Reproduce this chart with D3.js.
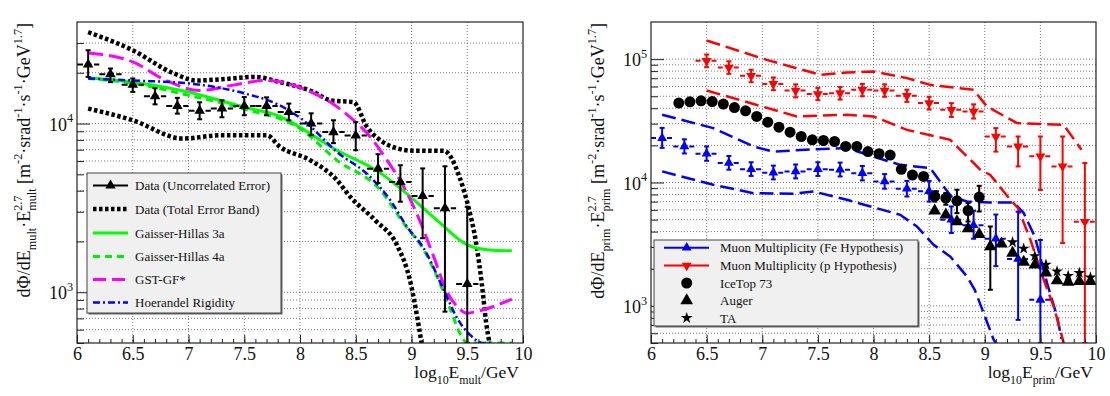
<!DOCTYPE html>
<html>
<head>
<meta charset="utf-8">
<script src="https://cdn.jsdelivr.net/npm/d3@7"></script>
<style>
  body { margin: 0; background: #fff; }
  svg { display: block; font-family: "Liberation Serif", "DejaVu Serif", serif; }
</style>
</head>
<body>
<svg id="chart" width="1110" height="396"></svg>
<script>
// ---------- left panel: muon multiplicity spectrum ----------
var multX      = [6.1, 6.3, 6.5, 6.7, 6.9, 7.1, 7.3, 7.5, 7.7, 7.9, 8.1, 8.3, 8.5, 8.7, 8.9, 9.1, 9.3, 9.5];
var multFlux   = [22400, 19600, 17000, 14500, 12700, 11900, 12300, 12700, 12700, 11700, 10000, 8900, 8500, 5400, 4500, 3720, 3150, 1120];
var multErrLo  = [18900, 17600, 15400, 13000, 11450, 10600, 10900, 11200, 11200, 10450, 8530, 7650, 6950, 4440, 3440, 2090, 767, 300];
var multErrHi  = [27200, 21200, 18500, 16200, 14200, 13370, 13740, 14360, 14300, 13130, 11500, 10460, 10200, 6580, 5660, 5420, 5580, 3210];

var bandUpX = [6.1, 6.5, 6.87, 7.07, 7.3, 7.6, 7.79, 8.12, 8.28, 8.48, 8.6, 8.72, 8.85, 9.02, 9.29, 9.43, 9.51, 9.58, 9.63, 9.67, 9.7];
var bandUpY = [34800, 27200, 19800, 18000, 18300, 18900, 17800, 15400, 13700, 13400, 9550, 7960, 7200, 6900, 6900, 4830, 3210, 1950, 1130, 656, 500];
var bandLoX = [6.1, 6.5, 6.95, 7.3, 7.7, 7.82, 8.09, 8.33, 8.45, 8.68, 8.87, 8.99, 9.05, 9.09];
var bandLoY = [12270, 10460, 8150, 8530, 8530, 7280, 6070, 4630, 3680, 2650, 1900, 1150, 720, 500];

var gh3aX = [6.1, 6.5, 7.0, 7.5, 7.79, 8.33, 8.72, 8.99, 9.26, 9.5, 9.7, 9.9];
var gh3aY = [18700, 17600, 15400, 12500, 11200, 6950, 5100, 3680, 2560, 1910, 1780, 1760];
var gh4aX = [6.1, 6.5, 7.0, 7.5, 8.0, 8.33, 8.72, 8.93, 9.11, 9.23, 9.35, 9.45, 9.5, 9.6, 9.9];
var gh4aY = [18500, 17300, 14700, 12200, 9340, 6070, 4030, 2560, 1780, 1235, 785, 546, 480, 400, 400];
var gstX  = [6.1, 6.5, 6.8, 7.1, 7.4, 7.7, 8.03, 8.27, 8.45, 8.63, 8.78, 8.93, 9.05, 9.2, 9.32, 9.41, 9.5, 9.58, 9.9];
var gstY  = [26200, 23200, 18000, 15700, 16900, 18000, 16100, 13400, 10900, 8340, 6070, 4220, 2900, 1620, 1000, 822, 751, 767, 910];
var hoerX = [6.1, 6.5, 7.0, 7.5, 7.8, 8.03, 8.33, 8.63, 8.81, 8.96, 9.11, 9.29, 9.41, 9.53, 9.64, 9.7];
var hoerY = [18500, 18000, 17300, 15100, 13000, 10460, 6800, 4830, 3510, 2440, 1820, 1030, 700, 555, 480, 470];

// ---------- right panel: primary spectrum ----------
var feX     = [6.1, 6.3, 6.5, 6.7, 6.9, 7.1, 7.3, 7.5, 7.7, 7.9, 8.1, 8.3, 8.5, 8.7, 8.9, 9.1, 9.3, 9.5];
var feFlux  = [22900, 19600, 17100, 14400, 12800, 12000, 12300, 12800, 12700, 11900, 10200, 8900, 8500, 5000, 4500, 3500, 2400, 1120];
var feErrLo = [19100, 17200, 15000, 12700, 11300, 10600, 10800, 11300, 11200, 10400, 8900, 7700, 7000, 3900, 3500, 2100, 770, 400];
var feErrHi = [27700, 22400, 19600, 16400, 14600, 13700, 14000, 14600, 14500, 13600, 11700, 10300, 10300, 6400, 5900, 5500, 5800, 3420];

var pX     = [6.5, 6.7, 6.9, 7.1, 7.3, 7.5, 7.7, 7.9, 8.1, 8.3, 8.5, 8.7, 8.9, 9.1, 9.3, 9.5, 9.7, 9.9];
var pFlux  = [97000, 85500, 73200, 63000, 55700, 52100, 53000, 56400, 55700, 50500, 44000, 38800, 37600, 23600, 19600, 16300, 13500, 4800];
var pErrLo = [86000, 76000, 65000, 56000, 49000, 46500, 47000, 50000, 49500, 45000, 39000, 34000, 33000, 17800, 13500, 8700, 3230, 300];
var pErrHi = [109000, 96000, 82000, 71000, 62500, 58500, 59500, 63000, 62500, 56500, 49500, 44000, 43000, 27600, 23600, 23600, 23600, 14400];

var itX     = [6.25, 6.35, 6.45, 6.55, 6.65, 6.75, 6.85, 6.95, 7.05, 7.15, 7.25, 7.35, 7.45, 7.55, 7.65, 7.75, 7.85, 7.95, 8.05, 8.15, 8.25, 8.35, 8.45, 8.55, 8.65, 8.75, 8.85, 8.95];
var itFlux  = [44000, 45100, 45900, 45300, 43200, 40500, 38100, 34300, 30800, 28100, 25600, 23600, 22200, 21900, 21500, 19600, 19600, 17800, 17100, 16700, 12800, 11500, 11200, 7710, 7480, 7110, 5930, 7620];
var itErrLo = [44000, 45100, 45900, 45300, 43200, 40500, 38100, 34300, 30800, 28100, 25600, 23600, 22200, 21900, 21500, 19600, 19600, 17800, 17100, 16700, 12800, 11500, 11200, 7000, 6600, 5650, 4830, 5820];
var itErrHi = [44000, 45100, 45900, 45300, 43200, 40500, 38100, 34300, 30800, 28100, 25600, 23600, 22200, 21900, 21500, 19600, 19600, 17800, 17100, 16700, 12800, 11500, 11200, 8500, 8210, 8730, 6810, 9400];

var augX     = [8.55, 8.65, 8.75, 8.85, 8.95, 9.05, 9.15, 9.25, 9.35, 9.45, 9.55, 9.65, 9.75, 9.85, 9.95];
var augFlux  = [5900, 5470, 4830, 4230, 3800, 3030, 3180, 2680, 2260, 2150, 1850, 1600, 1560, 1580, 1580];
var augErrLo = [5900, 5470, 4830, 4230, 3800, 1350, 3180, 2680, 2260, 2150, 1850, 1600, 1560, 1580, 1580];
var augErrHi = [5900, 5470, 4830, 4230, 3800, 4400, 3180, 2680, 2260, 2150, 1850, 1600, 1560, 1580, 1580];

var taX    = [9.25, 9.35, 9.45, 9.55, 9.65, 9.75, 9.85, 9.95];
var taFlux = [3280, 2910, 2530, 2160, 1900, 1750, 1850, 1700];

var feUpX = [6.1, 6.56, 6.92, 7.1, 7.46, 7.76, 8.09, 8.24, 8.51, 8.63, 8.7, 8.84, 9.05, 9.26, 9.35, 9.45, 9.56, 9.65, 9.69];
var feUpY = [35400, 27600, 19600, 17800, 18600, 19000, 15300, 13900, 13100, 9290, 7700, 7010, 6890, 6890, 5650, 3650, 1530, 820, 540];
var feLoX = [6.1, 6.56, 6.92, 7.28, 7.46, 7.76, 8.24, 8.39, 8.54, 8.69, 8.84, 8.91, 8.99, 9.08, 9.1];
var feLoY = [12300, 9580, 8200, 8100, 8460, 7240, 5470, 4400, 3130, 2510, 1730, 1350, 875, 531, 500];
var pUpX  = [6.5, 7.04, 7.52, 7.76, 8.0, 8.3, 8.51, 8.9, 9.02, 9.29, 9.71, 9.87];
var pUpY  = [141600, 98600, 74700, 77800, 79500, 70200, 61900, 56400, 41300, 30300, 29300, 18400];
var pLoX  = [6.5, 7.31, 7.76, 8.0, 8.3, 8.69, 8.78, 8.96, 9.05, 9.23, 9.3, 9.41, 9.53, 9.62, 9.71];
var pLoY  = [55700, 34300, 35400, 34300, 26700, 22200, 18400, 12700, 11500, 7240, 6200, 3440, 1630, 988, 500];

// ---------- axes ----------
var xMajorTicks = [6, 6.5, 7, 7.5, 8, 8.5, 9, 9.5, 10];
var xTickLabels = ["6", "6.5", "7", "7.5", "8", "8.5", "9", "9.5", "10"];
var yMajorLeft  = [1000, 10000];
var yMajorRight = [1000, 10000, 100000];
var yLabelExp   = {1000: "3", 10000: "4", 100000: "5"};
var yMinorLeft  = [600, 700, 800, 900, 2000, 3000, 4000, 5000, 6000, 7000, 8000, 9000, 20000, 30000];
var yMinorRight = [600, 700, 800, 900, 2000, 3000, 4000, 5000, 6000, 7000, 8000, 9000,
                   20000, 30000, 40000, 50000, 60000, 70000, 80000, 90000];

var leftLegend  = ["Data (Uncorrelated Error)", "Data (Total Error Band)", "Gaisser-Hillas 3a", "Gaisser-Hillas 4a", "GST-GF*", "Hoerandel Rigidity"];
var rightLegend = ["Muon Multiplicity (Fe Hypothesis)", "Muon Multiplicity (p Hypothesis)", "IceTop 73", "Auger", "TA"];

var svg = d3.select("#chart");
var plotTop = 22, plotBottom = 343;

// text with sub/superscripts, "stack" puts a superscript over the previous subscript
function rich(text, parts, fs) {
  var off = 0, subW = 0, pendDx = 0;
  parts.forEach(function(p) {
    var k = p[1] || "n";
    var target = k == "sub" ? fs * 0.32 : (k == "sup" || k == "stack") ? -fs * 0.45 : 0;
    var span = text.append("tspan").text(p[0])
      .attr("font-size", k == "n" ? fs : fs * 0.68)
      .attr("dy", target - off);
    var dx = k == "stack" ? -subW : pendDx;
    if (dx) span.attr("dx", dx);
    pendDx = 0;
    off = target;
    var w = span.node().getComputedTextLength();
    if (k == "sub") subW = w;
    if (k == "stack") pendDx = Math.max(subW - w, 0);
  });
}

function makePanel(left, right, yDomain, yMajor, yMinor, id) {
  var x = d3.scaleLinear().domain([6, 10]).range([left, right]);
  var y = d3.scaleLog().domain(yDomain).range([plotBottom, plotTop]).clamp(true);
  var g = svg.append("g");

  svg.append("clipPath").attr("id", id).append("rect")
    .attr("x", left).attr("y", plotTop).attr("width", right - left).attr("height", plotBottom - plotTop);

  // grid
  var grid = g.append("g").attr("stroke", "#555").attr("stroke-width", 0.8).attr("stroke-dasharray", "1,2");
  grid.selectAll(".gx").data(xMajorTicks.slice(1, -1)).enter().append("line")
    .attr("x1", function(d) { return x(d); }).attr("x2", function(d) { return x(d); })
    .attr("y1", plotTop).attr("y2", plotBottom);
  grid.selectAll(".gy").data(yMajor.concat(yMinor)).enter().append("line")
    .attr("y1", function(d) { return y(d); }).attr("y2", function(d) { return y(d); })
    .attr("x1", left).attr("x2", right);

  return {x: x, y: y, g: g, clip: "url(#" + id + ")", left: left, right: right, yMajor: yMajor, yMinor: yMinor};
}

function drawAxes(P) {
  var ax = P.g.append("g").attr("transform", "translate(0," + plotBottom + ")");
  ax.call(d3.axisBottom(P.x).tickValues(d3.range(60, 101).map(function(v) { return v / 10; }))
    .tickSize(-4).tickFormat(""));
  var axM = P.g.append("g").attr("transform", "translate(0," + plotBottom + ")");
  axM.call(d3.axisBottom(P.x).tickValues(xMajorTicks).tickSize(-8).tickPadding(4)
    .tickFormat(function(d, i) { return xTickLabels[i]; }));
  [ax, axM].forEach(function(a) {
    a.select(".domain").remove();
    a.selectAll("line").attr("stroke", "#222");
    a.selectAll("text").attr("font-size", 18).attr("font-family", "Liberation Serif").attr("fill", "#111");
  });

  var ay = P.g.append("g").attr("transform", "translate(" + P.left + ",0)");
  ay.call(d3.axisLeft(P.y).tickValues(P.yMinor.concat([500])).tickSize(-7).tickFormat(""));
  var ayM = P.g.append("g").attr("transform", "translate(" + P.left + ",0)");
  ayM.call(d3.axisLeft(P.y).tickValues(P.yMajor).tickSize(-13).tickFormat(""));
  [ay, ayM].forEach(function(a) {
    a.select(".domain").remove();
    a.selectAll("line").attr("stroke", "#222");
  });
  ayM.selectAll(".tick").each(function(d) {
    var t = d3.select(this).append("text").attr("x", -4).attr("y", 6.5)
      .attr("text-anchor", "end").attr("fill", "#111").attr("font-family", "Liberation Serif");
    rich(t, [["10"], [yLabelExp[d], "sup"]], 18);
  });

  P.g.append("rect").attr("x", P.left).attr("y", plotTop)
    .attr("width", P.right - P.left).attr("height", plotBottom - plotTop)
    .attr("fill", "none").attr("stroke", "#222").attr("stroke-width", 1.2);
}

function curve(P, xs, ys, color, width, dash, interp) {
  var line = d3.line()
    .x(function(d) { return P.x(d[0]); })
    .y(function(d) { return P.y(d[1]); })
    .curve(interp || d3.curveMonotoneX);
  P.g.append("path").datum(d3.zip(xs, ys))
    .attr("clip-path", P.clip)
    .attr("d", line).attr("fill", "none")
    .attr("stroke", color).attr("stroke-width", width)
    .attr("stroke-dasharray", dash || null);
}

function errorPoints(P, xs, ys, lo, hi, color, symbol, size, rotate, hdash, halfw) {
  var g = P.g.append("g").attr("clip-path", P.clip);
  var pts = xs.map(function(v, i) { return {x: v, y: ys[i], lo: lo ? lo[i] : ys[i], hi: hi ? hi[i] : ys[i]}; });
  if (halfw) {
    g.selectAll(".h").data(pts).enter().append("line")
      .attr("x1", function(d) { return P.x(d.x - halfw); })
      .attr("x2", function(d) { return P.x(d.x + halfw); })
      .attr("y1", function(d) { return P.y(d.y); })
      .attr("y2", function(d) { return P.y(d.y); })
      .attr("stroke", color).attr("stroke-width", 2).attr("stroke-dasharray", hdash);
  }
  var v = pts.filter(function(d) { return d.hi > d.lo; });
  g.selectAll(".v").data(v).enter().append("line")
    .attr("x1", function(d) { return P.x(d.x); }).attr("x2", function(d) { return P.x(d.x); })
    .attr("y1", function(d) { return P.y(d.lo); }).attr("y2", function(d) { return P.y(d.hi); })
    .attr("stroke", color).attr("stroke-width", 2);
  g.selectAll(".c").data(v.concat(v)).enter().append("line")
    .attr("x1", function(d) { return P.x(d.x) - 2.5; }).attr("x2", function(d) { return P.x(d.x) + 2.5; })
    .attr("y1", function(d, i) { return P.y(i < v.length ? d.lo : d.hi); })
    .attr("y2", function(d, i) { return P.y(i < v.length ? d.lo : d.hi); })
    .attr("stroke", color).attr("stroke-width", 2);
  g.selectAll(".m").data(pts).enter().append("path")
    .attr("d", d3.symbol().type(symbol).size(size))
    .attr("transform", function(d) {
      return "translate(" + P.x(d.x) + "," + P.y(d.y) + ")" + (rotate ? " rotate(180)" : "");
    })
    .attr("fill", color);
}

// ---------- left ----------
var L = makePanel(77, 523, [500, 40000], yMajorLeft, yMinorLeft, "clipL");
curve(L, bandUpX, bandUpY, "#000", 4.5, "3.5,2.5");
curve(L, bandLoX, bandLoY, "#000", 4.5, "3.5,2.5");
curve(L, gh3aX, gh3aY, "#00ff00", 3);
curve(L, gh4aX, gh4aY, "#00ee00", 3, "7,5");
curve(L, gstX, gstY, "#ff00ff", 3, "15,6");
curve(L, hoerX, hoerY, "#0000ff", 2.5, "7,3,2,3");
errorPoints(L, multX, multFlux, multErrLo, multErrHi, "#000", d3.symbolTriangle, 48, false, "6,2.5", 0.1);
drawAxes(L);

// ---------- right ----------
var R = makePanel(651, 1096, [500, 200000], yMajorRight, yMinorRight, "clipR");
curve(R, feUpX, feUpY, "#0000ff", 2.5, "14,6", d3.curveLinear);
curve(R, feLoX, feLoY, "#0000ff", 2.5, "14,6", d3.curveLinear);
curve(R, pUpX, pUpY, "#ff0000", 2.5, "14,6", d3.curveLinear);
curve(R, pLoX, pLoY, "#ff0000", 2.5, "14,6", d3.curveLinear);
errorPoints(R, feX, feFlux, feErrLo, feErrHi, "#0000ff", d3.symbolTriangle, 42, false, "5,3", 0.1);
errorPoints(R, pX, pFlux, pErrLo, pErrHi, "#ff0000", d3.symbolTriangle, 42, true, "5,3", 0.1);
errorPoints(R, itX, itFlux, itErrLo, itErrHi, "#000", d3.symbolCircle, 95);
errorPoints(R, augX, augFlux, augErrLo, augErrHi, "#000", d3.symbolTriangle, 70);
errorPoints(R, taX, taFlux, null, null, "#000", d3.symbolStar, 42);
drawAxes(R);

// ---------- axis titles ----------
function yTitle(x, sub) {
  var t = svg.append("text").attr("transform", "translate(" + x + "," + (plotTop + 1) + ") rotate(-90)")
    .attr("text-anchor", "end").attr("fill", "#111");
  rich(t, [["d\u03A6/dE"], [sub, "sub"], ["\u00B7E"], [sub, "sub"], ["2.7", "stack"], [" [m"], ["-2", "sup"],
    ["\u00B7srad"], ["-1", "sup"], ["\u00B7s"], ["-1", "sup"], ["\u00B7GeV"], ["1.7", "sup"], ["]"]], 18);
}
yTitle(30, "mult");
yTitle(604, "prim");

function xTitle(x, sub) {
  var t = svg.append("text").attr("x", x).attr("y", 378).attr("text-anchor", "end").attr("fill", "#111");
  rich(t, [["log"], ["10", "sub"], ["E"], [sub, "sub"], ["/GeV"]], 17.5);
}
xTitle(519, "mult");
xTitle(1093, "prim");

// ---------- legends ----------
function legendBox(x0, y0, w, h) {
  svg.append("rect").attr("x", x0 + 1.5).attr("y", y0 + 1.5).attr("width", w).attr("height", h).attr("fill", "#666");
  svg.append("rect").attr("x", x0).attr("y", y0).attr("width", w).attr("height", h)
    .attr("fill", "#f0f0f0").attr("stroke", "#444").attr("stroke-width", 1);
}

legendBox(87, 173, 194, 140);
var lrows = [185.5, 209, 233, 256.5, 279.5, 302.5];
var lg = svg.append("g");
lg.selectAll("text").data(leftLegend).enter().append("text")
  .attr("x", 135).attr("y", function(d, i) { return lrows[i] + 4.5; })
  .attr("font-size", 13).attr("fill", "#111").text(function(d) { return d; });
var lstyles = [["#000", 2, null], ["#000", 4.5, "3.5,2.5"], ["#00ff00", 3, null], ["#00ee00", 3, "7,5"], ["#ff00ff", 3, "13,6"], ["#0000ff", 2.5, "7,3,2,3"]];
lg.selectAll("line").data(lstyles).enter().append("line")
  .attr("x1", 93).attr("x2", 128)
  .attr("y1", function(d, i) { return lrows[i]; }).attr("y2", function(d, i) { return lrows[i]; })
  .attr("stroke", function(d) { return d[0]; }).attr("stroke-width", function(d) { return d[1]; })
  .attr("stroke-dasharray", function(d) { return d[2]; });
lg.append("path").attr("d", d3.symbol().type(d3.symbolTriangle).size(48)())
  .attr("transform", "translate(110.5," + lrows[0] + ")").attr("fill", "#000");

legendBox(654, 240, 264, 86);
var rrows = [247.7, 265.5, 283, 300.5, 318];
var rg = svg.append("g");
rg.selectAll("text").data(rightLegend).enter().append("text")
  .attr("x", 720).attr("y", function(d, i) { return rrows[i] + 4.5; })
  .attr("font-size", 13).attr("fill", "#111").text(function(d) { return d; });
[["#0000ff", 0], ["#ff0000", 1]].forEach(function(c) {
  rg.append("line").attr("x1", 664).attr("x2", 709).attr("y1", rrows[c[1]]).attr("y2", rrows[c[1]])
    .attr("stroke", c[0]).attr("stroke-width", 2);
});
var rsym = [[d3.symbolTriangle, 42, "#0000ff", false], [d3.symbolTriangle, 42, "#ff0000", true],
            [d3.symbolCircle, 95, "#000", false], [d3.symbolTriangle, 70, "#000", false], [d3.symbolStar, 42, "#000", false]];
rsym.forEach(function(s, i) {
  rg.append("path").attr("d", d3.symbol().type(s[0]).size(s[1])())
    .attr("transform", "translate(686.7," + rrows[i] + ")" + (s[3] ? " rotate(180)" : ""))
    .attr("fill", s[2]);
});
</script>
</body>
</html>
